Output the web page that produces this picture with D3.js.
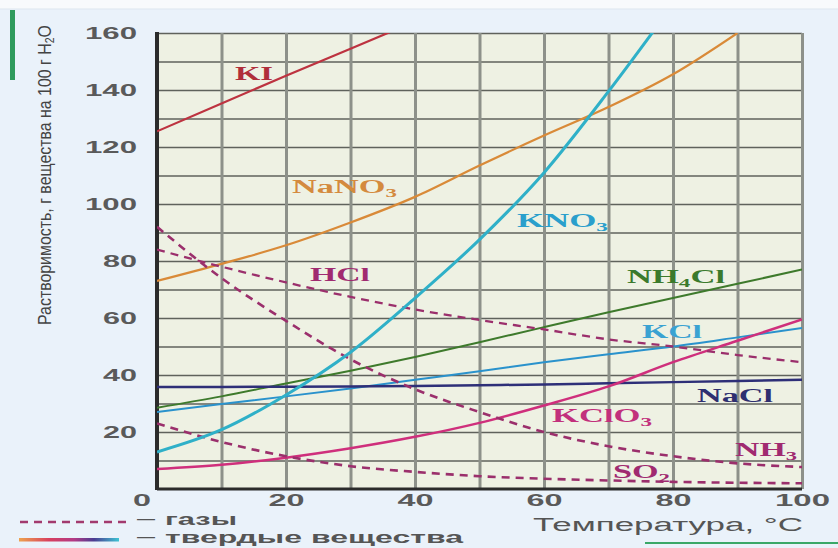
<!DOCTYPE html>
<html>
<head>
<meta charset="utf-8">
<script src="https://cdn.jsdelivr.net/npm/d3@7"></script>
<style>
  body { margin: 0; background: #eaf2fa; }
  svg { display: block; }
</style>
</head>
<body>
<div id="chart"></div>
<script>
// temperatures, °C
var temps = [0, 10, 20, 30, 40, 50, 60, 70, 80, 90, 100];

// solubility, g per 100 g H2O (null = off the chart)
var kiVals     = [125.5, 135.3, 145, 154.5, 164, null, null, null, null, null, null];
var nano3Vals  = [73, 79, 85.5, 93.5, 102.5, 113.5, 124, 134, 145.5, 160, null];
var kno3Vals   = [13, 20.8, 33, 48, 67, 87.5, 111, 139.5, 170, null, null];
var nh4clVals  = [28.5, 32.5, 37, 41.5, 46.3, 51.5, 56.8, 62, 67, 72, 77];
var kclVals    = [27, 29.8, 32.5, 35.3, 38.3, 41.3, 44.5, 47.3, 50, 53.2, 56.5];
var naclVals   = [35.8, 35.8, 35.9, 36, 36.1, 36.4, 36.7, 37.1, 37.5, 37.9, 38.3];
var kclo3Vals  = [7, 8.5, 11, 14.3, 18.3, 23.2, 29.3, 36, 44.5, 52, 59.5];
var hclVals    = [84, 78, 72.5, 67.4, 63, 59.3, 56, 52.5, 50, 47, 44.5];
var nh3Vals    = [92, 74, 59, 45.5, 35, 27, 20, 15, 11.5, 9, 7.7];
var so2Vals    = [23, 16.5, 11.5, 8, 6, 4.5, 3.6, 3, 2.5, 2.2, 2];

var yTicks = [20, 40, 60, 80, 100, 120, 140, 160];
var xTicks = [20, 40, 60, 80, 100];

var svgWidth = 838, svgHeight = 548;
var margin = { top: 33, right: 36, bottom: 59, left: 157 };
var width = svgWidth - margin.left - margin.right;
var height = svgHeight - margin.top - margin.bottom;

var svg = d3.select("#chart").append("svg")
    .attr("width", svgWidth)
    .attr("height", svgHeight);

// page decoration: white strip on top, green bars
svg.append("rect").attr("width", svgWidth).attr("height", 9).attr("fill", "#f8fafc");
svg.append("line").attr("x1", 0).attr("x2", svgWidth).attr("y1", 9).attr("y2", 9)
    .attr("stroke", "#dde6ef").attr("stroke-width", 1);
svg.append("rect").attr("x", 10).attr("y", 10).attr("width", 5).attr("height", 70).attr("fill", "#2f9a5c");
svg.append("line").attr("x1", 645).attr("x2", 838).attr("y1", 543).attr("y2", 543)
    .attr("stroke", "#3aa868").attr("stroke-width", 2);

var g = svg.append("g")
    .attr("transform", "translate(" + margin.left + "," + margin.top + ")");

var x = d3.scaleLinear().domain([0, 100]).range([0, width]);
var y = d3.scaleLinear().domain([0, 160]).range([height, 0]);

g.append("rect")
    .attr("width", width)
    .attr("height", height)
    .attr("fill", "#eef1e3");

g.append("defs").append("clipPath")
    .attr("id", "plotClip")
    .append("rect")
    .attr("width", width)
    .attr("height", height);

// grid: horizontal every 10, vertical every 10 °C
var hGrid = g.append("g")
    .call(d3.axisLeft(y).tickValues(d3.range(10, 170, 10)).tickSize(-width).tickFormat(""));
hGrid.select(".domain").remove();
hGrid.selectAll("line").attr("stroke", "#5f625c").attr("stroke-width", 1.3);

var vGrid = g.append("g")
    .attr("transform", "translate(0," + height + ")")
    .call(d3.axisBottom(x).tickValues(d3.range(10, 110, 10)).tickSize(-height).tickFormat(""));
vGrid.select(".domain").remove();
vGrid.selectAll("line").attr("stroke", "#8d918a").attr("stroke-width", 3);

// axes lines
g.append("line").attr("x1", 0).attr("x2", 0).attr("y1", -1).attr("y2", height + 1)
    .attr("stroke", "#2b2b2b").attr("stroke-width", 4);
g.append("line").attr("x1", 0).attr("x2", width).attr("y1", height).attr("y2", height)
    .attr("stroke", "#2b2b2b").attr("stroke-width", 3);

// tick labels
var yAxisG = g.append("g")
    .call(d3.axisLeft(y).tickValues(yTicks).tickSize(0).tickPadding(20));
yAxisG.select(".domain").remove();
yAxisG.selectAll("text")
    .attr("font-family", "Liberation Sans, Arial, sans-serif")
    .attr("font-size", 17)
    .attr("font-weight", "bold")
    .attr("fill", "#5a5a5a")
    .attr("textLength", function(d) { return d >= 100 ? 52 : 34; })
    .attr("lengthAdjust", "spacingAndGlyphs");

var xAxisG = g.append("g")
    .attr("transform", "translate(0," + height + ")")
    .call(d3.axisBottom(x).tickValues(xTicks).tickSize(0).tickPadding(5));
xAxisG.select(".domain").remove();
xAxisG.selectAll("text")
    .attr("font-family", "Liberation Sans, Arial, sans-serif")
    .attr("font-size", 17)
    .attr("font-weight", "bold")
    .attr("fill", "#5a5a5a")
    .attr("textLength", function(d) { return d >= 100 ? 55 : 36; })
    .attr("lengthAdjust", "spacingAndGlyphs");

g.append("text")
    .attr("x", x(0) - 24)
    .attr("y", height + 17)
    .attr("font-family", "Liberation Sans, Arial, sans-serif")
    .attr("font-size", 17)
    .attr("font-weight", "bold")
    .attr("fill", "#5a5a5a")
    .attr("textLength", 18)
    .attr("lengthAdjust", "spacingAndGlyphs")
    .text("0");

// curves
var line = d3.line()
    .defined(function(d) { return d[1] != null; })
    .x(function(d) { return x(d[0]); })
    .y(function(d) { return y(d[1]); })
    .curve(d3.curveMonotoneX);

var series = [
    { vals: kiVals,    color: "#bd3340", w: 2.2 },
    { vals: nano3Vals, color: "#d98a38", w: 2.2 },
    { vals: nh4clVals, color: "#3e7a2c", w: 2 },
    { vals: kclVals,   color: "#2a92cc", w: 2 },
    { vals: naclVals,  color: "#2e2f78", w: 2.5 },
    { vals: kclo3Vals, color: "#cf2f7c", w: 2.5 },
    { vals: hclVals,   color: "#9b2f6c", w: 2.3, dash: "8,6" },
    { vals: nh3Vals,   color: "#9b2f6c", w: 2.6, dash: "8,6" },
    { vals: so2Vals,   color: "#9b2f6c", w: 2.6, dash: "8,6" },
    { vals: kno3Vals,  color: "#2fb0c8", w: 3 }
];

var curves = g.append("g").attr("clip-path", "url(#plotClip)");
series.forEach(function(s) {
    curves.append("path")
        .datum(temps.map(function(t, i) { return [t, s.vals[i]]; }))
        .attr("d", line)
        .attr("fill", "none")
        .attr("stroke", s.color)
        .attr("stroke-width", s.w)
        .attr("stroke-dasharray", s.dash || null);
});

// curve labels
var labels = [
    { parts: [["KI"]], x: 235, y: 80, w: 38, color: "#b02e3a" },
    { parts: [["NaNO"], ["3", 1]], x: 292, y: 193, w: 105, color: "#d48a3e" },
    { parts: [["KNO"], ["3", 1]], x: 517, y: 227, w: 91, color: "#2a9fcc" },
    { parts: [["HCl"]], x: 310, y: 281, w: 60, color: "#a02a70" },
    { parts: [["NH"], ["4", 1], ["Cl"]], x: 627, y: 283, w: 98, color: "#3b7a2c" },
    { parts: [["KCl"]], x: 642, y: 338, w: 60, color: "#3aa2d2" },
    { parts: [["NaCl"]], x: 697, y: 402, w: 76, color: "#2e2f70" },
    { parts: [["KClO"], ["3", 1]], x: 552, y: 422, w: 100, color: "#c2307c" },
    { parts: [["NH"], ["3", 1]], x: 735, y: 456, w: 62, color: "#a02a70" },
    { parts: [["SO"], ["2", 1]], x: 613, y: 478, w: 57, color: "#a02a70" }
];

labels.forEach(function(l) {
    var t = svg.append("text")
        .attr("x", l.x)
        .attr("y", l.y)
        .attr("font-family", "Liberation Serif, Times New Roman, serif")
        .attr("font-size", 18)
        .attr("font-weight", "bold")
        .attr("fill", l.color)
        .attr("textLength", l.w)
        .attr("lengthAdjust", "spacingAndGlyphs");
    var shifted = false;
    l.parts.forEach(function(p) {
        var ts = t.append("tspan").text(p[0]);
        if (p[1]) {
            ts.attr("font-size", 12).attr("dy", 4);
            shifted = true;
        } else if (shifted) {
            ts.attr("dy", -4);
            shifted = false;
        }
    });
});

// axis titles
var yTitle = svg.append("text")
    .attr("transform", "translate(51,175) rotate(-90)")
    .attr("text-anchor", "middle")
    .attr("font-family", "Liberation Sans Narrow, Liberation Sans, Arial, sans-serif")
    .attr("font-size", 18)
    .attr("fill", "#444")
    .attr("textLength", 300)
    .attr("lengthAdjust", "spacingAndGlyphs");
yTitle.append("tspan").text("Растворимость, г вещества на 100 г H");
yTitle.append("tspan").attr("font-size", 12).attr("dy", 3).text("2");
yTitle.append("tspan").attr("dy", -3).text("O");

svg.append("text")
    .attr("x", 533)
    .attr("y", 531)
    .attr("font-family", "Liberation Sans, Arial, sans-serif")
    .attr("font-size", 18)
    .attr("fill", "#555")
    .attr("textLength", 270)
    .attr("lengthAdjust", "spacingAndGlyphs")
    .text("Температура, °C");

// legend
var grad = svg.append("defs").append("linearGradient")
    .attr("id", "solidGrad");
[["0%", "#eda24e"], ["30%", "#d8405e"], ["55%", "#b23a86"], ["75%", "#4a3d92"], ["100%", "#3ec4d4"]]
    .forEach(function(s) {
        grad.append("stop").attr("offset", s[0]).attr("stop-color", s[1]);
    });

svg.append("line")
    .attr("x1", 20).attr("x2", 127).attr("y1", 522).attr("y2", 522)
    .attr("stroke", "#a23a6e").attr("stroke-width", 2.5)
    .attr("stroke-dasharray", "8,6");
svg.append("rect")
    .attr("x", 19).attr("y", 538).attr("width", 100).attr("height", 3.5)
    .attr("fill", "url(#solidGrad)");

[["—", "газы", 525, 72], ["—", "твердые вещества", 543, 298]].forEach(function(d) {
    svg.append("text")
        .attr("x", 137)
        .attr("y", d[2] - 1)
        .attr("font-family", "Liberation Sans, Arial, sans-serif")
        .attr("font-size", 16)
        .attr("fill", "#555")
        .attr("textLength", 18)
        .attr("lengthAdjust", "spacingAndGlyphs")
        .text(d[0]);
    svg.append("text")
        .attr("x", 165)
        .attr("y", d[2])
        .attr("font-family", "Liberation Sans, Arial, sans-serif")
        .attr("font-size", 17)
        .attr("font-weight", "bold")
        .attr("fill", "#555")
        .attr("textLength", d[3])
        .attr("lengthAdjust", "spacingAndGlyphs")
        .text(d[1]);
});
</script>
</body>
</html>
